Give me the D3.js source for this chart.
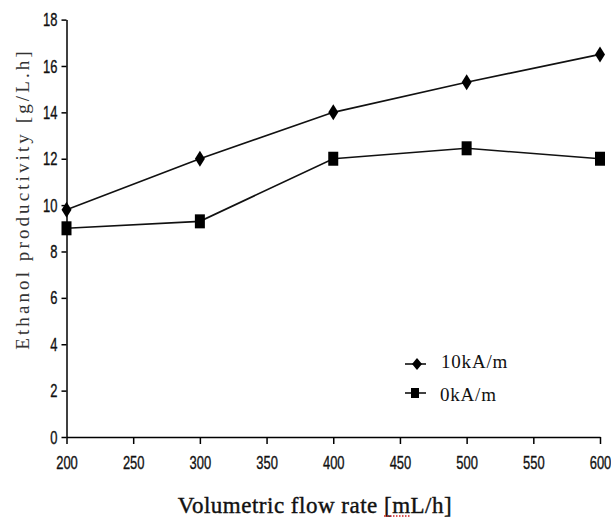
<!DOCTYPE html>
<html><head><meta charset="utf-8">
<script src="https://cdn.jsdelivr.net/npm/d3@7"></script>
<style>
body{margin:0;background:#fff;}
</style></head>
<body>
<svg id="c" width="611" height="517"></svg>
<script>
const flowRates = [200, 300, 400, 500, 600];
const series10kA = [9.8, 12.0, 14.0, 15.3, 16.5];
const series0kA = [9.0, 9.3, 12.0, 12.45, 12.0];
const xTicks = [200, 250, 300, 350, 400, 450, 500, 550, 600];
const yTicks = [0, 2, 4, 6, 8, 10, 12, 14, 16, 18];
const seriesNames = ["10kA/m", "0kA/m"];

const svg = d3.select("#c");
const x = d3.scaleLinear().domain([200, 600]).range([66.5, 600]);
const y = d3.scaleLinear().domain([0, 18]).range([437, 19.6]);
const SX = 0.72;

const xAxis = svg.append("g").attr("transform", "translate(0,437)")
  .call(d3.axisBottom(x).tickValues(xTicks).tickSize(7).tickSizeOuter(0).tickPadding(15));
const yAxis = svg.append("g").attr("transform", "translate(66.5,0)")
  .call(d3.axisLeft(y).tickValues(yTicks).tickSize(5).tickSizeOuter(0).tickPadding(3));
[xAxis, yAxis].forEach(a => {
  a.select(".domain").attr("stroke", "#000").attr("stroke-width", 1.5);
  a.selectAll(".tick line").attr("stroke", "#000").attr("stroke-width", 1.5);
  a.selectAll(".tick text").attr("fill", "#111").attr("font-size", 18)
    .attr("stroke", "#111").attr("stroke-width", 0.35)
    .attr("font-family", "Liberation Sans, Arial, sans-serif");
});
xAxis.selectAll(".tick text").attr("transform", `scale(${SX},1)`).attr("dy", "0.55em");
yAxis.selectAll(".tick text").attr("transform", `scale(${SX},1)`).attr("x", -9 / SX).attr("dy", "0.34em");

const line = d3.line().x((d, i) => x(flowRates[i])).y(d => y(d));
[series10kA, series0kA].forEach(s => {
  svg.append("path").datum(s).attr("d", line).attr("fill", "none")
    .attr("stroke", "#111").attr("stroke-width", 1.6);
});
function diamond(g, cx, cy, w, h) {
  g.append("path").attr("d", `M${cx},${cy-h/2} L${cx+w/2},${cy} L${cx},${cy+h/2} L${cx-w/2},${cy} Z`).attr("fill", "#000");
}
function square(g, cx, cy, w, h) {
  g.append("rect").attr("x", cx - w/2).attr("y", cy - h/2).attr("width", w).attr("height", h).attr("fill", "#000");
}
series10kA.forEach((v, i) => diamond(svg, x(flowRates[i]), y(v), 10, 16));
series0kA.forEach((v, i) => square(svg, x(flowRates[i]), y(v), 10, 14));

// legend
const lg = svg.append("g");
lg.append("line").attr("x1", 405).attr("x2", 426).attr("y1", 364).attr("y2", 364).attr("stroke", "#111").attr("stroke-width", 1.6);
diamond(lg, 417, 364, 10, 12);
lg.append("line").attr("x1", 405).attr("x2", 426).attr("y1", 393).attr("y2", 393).attr("stroke", "#111").attr("stroke-width", 1.6);
square(lg, 415, 393, 8, 10);
lg.append("text").attr("x", 441).attr("y", 368).text(seriesNames[0])
  .attr("font-family", "Liberation Serif, serif").attr("font-size", 19).attr("fill", "#111").attr("letter-spacing", 0.8);
lg.append("text").attr("x", 440).attr("y", 401).text(seriesNames[1])
  .attr("font-family", "Liberation Serif, serif").attr("font-size", 19).attr("fill", "#111").attr("letter-spacing", 0.8);

// axis titles
svg.append("text").attr("transform", "translate(29,199) rotate(-90)").attr("text-anchor", "middle")
  .attr("font-family", "Liberation Serif, serif").attr("font-size", 19).attr("fill", "#333")
  .attr("letter-spacing", 3.1).text("Ethanol productivity [g/L.h]");
const xt = svg.append("text").attr("x", 315).attr("y", 513).attr("text-anchor", "middle")
  .attr("font-family", "Liberation Serif, serif").attr("font-size", 23).attr("fill", "#111")
  .attr("stroke", "#111").attr("stroke-width", 0.4).attr("letter-spacing", 0.5);
xt.append("tspan").text("Volumetric flow rate [");
xt.append("tspan").text("mL");
xt.append("tspan").text("/h]");
// spell-check squiggle under "mL"
const xtNode = xt.node();
const start = xtNode.getStartPositionOfChar(21).x, end = xtNode.getEndPositionOfChar(22).x;
svg.append("line").attr("x1", start).attr("x2", end).attr("y1", 516).attr("y2", 516)
  .attr("stroke", "#d02020").attr("stroke-width", 1.5).attr("stroke-dasharray", "1.5,1.5");
</script>
</body></html>
